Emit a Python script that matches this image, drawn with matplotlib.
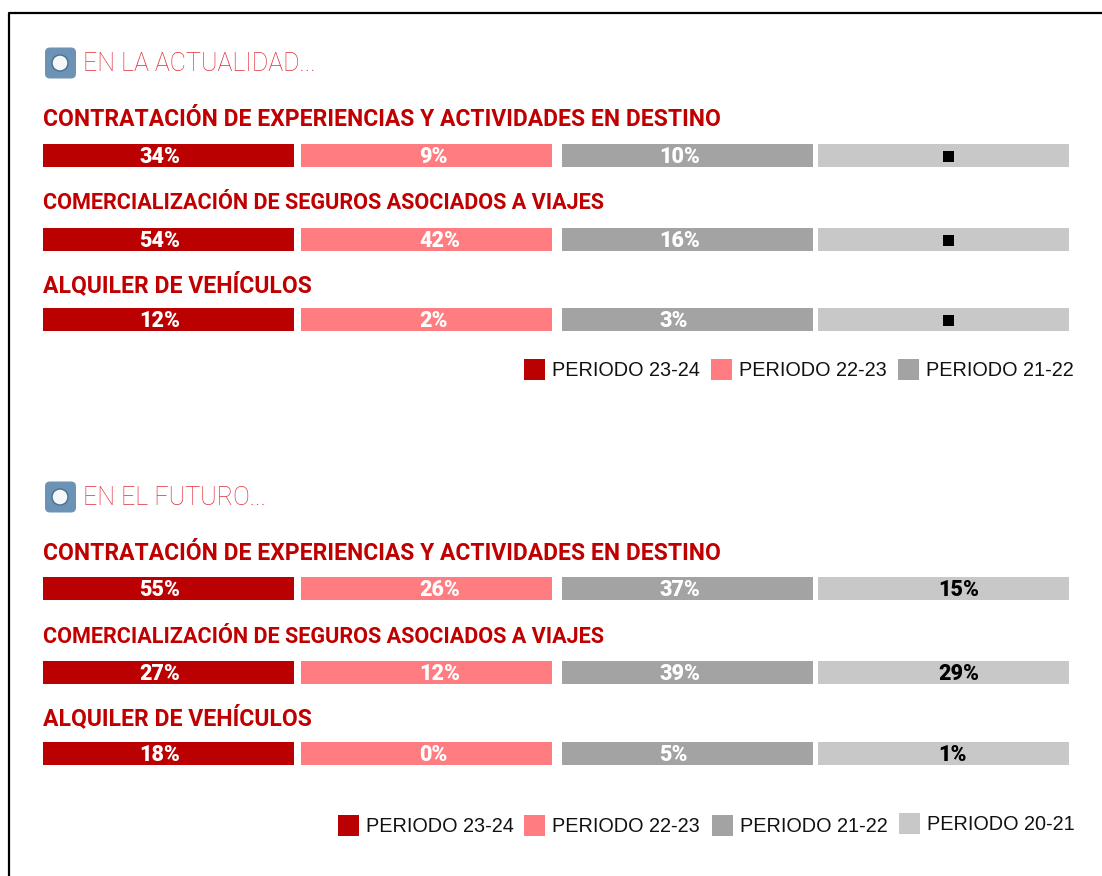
import matplotlib
matplotlib.use('Agg')
import matplotlib.pyplot as plt
from matplotlib.patches import FancyBboxPatch, Rectangle, Circle

# Values, '■' means no data for that period
categories = [
    'CONTRATACIÓN DE EXPERIENCIAS Y ACTIVIDADES EN DESTINO',
    'COMERCIALIZACIÓN DE SEGUROS ASOCIADOS A VIAJES',
    'ALQUILER DE VEHÍCULOS',
]
now_values = [
    ['34%', '9%', '10%', '■'],
    ['54%', '42%', '16%', '■'],
    ['12%', '2%', '3%', '■'],
]
future_values = [
    ['55%', '26%', '37%', '15%'],
    ['27%', '12%', '39%', '29%'],
    ['18%', '0%', '5%', '1%'],
]
periods = ['PERIODO 23-24', 'PERIODO 22-23', 'PERIODO 21-22', 'PERIODO 20-21']
colors = ['#BA0000', '#FF7C80', '#A3A3A3', '#C8C8C8']
value_colors = ['white', 'white', 'white', 'black']

# Layout, in pixels of the picture
col_x = [43, 301, 562, 818]
value_x = [139, 419, 659, 938]
label_sizes = [16.5, 15.6, 16.6]
col_w = 251
bar_h = 23
red = '#C00000'

fig = plt.figure(figsize=(11.02, 8.76), dpi=100)
ax = fig.add_axes([0, 0, 1, 1])
ax.set_xlim(0, 1102)
ax.set_ylim(876, 0)
ax.axis('off')

# black frame, open on the right and at the bottom
ax.plot([9, 9, 1102], [876, 13, 13], color='black', lw=1.6, solid_capstyle='butt')


def draw_section(title, title_y, values, label_ys, bar_ys, legend_xs, legend_y):
    # rounded blue icon
    ax.add_patch(FancyBboxPatch((45, title_y - 15.5), 31, 31,
                                boxstyle='round,pad=0,rounding_size=5',
                                fc='#6C93B5', ec='none'))
    ax.add_patch(Circle((60, title_y), 8, fc='#F4F6F8', ec='#4A6E8E', lw=1))
    ax.text(83, title_y + 1, title, color='#E0303C', fontsize=18, family='Roboto',
            va='center', ha='left', fontweight='light')

    for i, cat in enumerate(categories):
        ax.text(43, label_ys[i], cat, color=red, fontsize=label_sizes[i], family='Roboto',
                fontweight='bold', va='center', ha='left')
        for j, val in enumerate(values[i]):
            ax.add_patch(Rectangle((col_x[j], bar_ys[i]), col_w, bar_h,
                                   fc=colors[j], ec='none'))
            if val == '■':
                ax.add_patch(Rectangle((943, bar_ys[i] + 7), 11, 11,
                                       fc='black', ec='none'))
            else:
                ax.text(value_x[j], bar_ys[i] + 13, val,
                        color=value_colors[j], fontsize=15.5, family='Roboto',
                        fontweight='heavy', va='center', ha='left')

    for k, lx in enumerate(legend_xs):
        # the last key of the long legend sits a little higher
        dy = -2 if k == 3 else 0
        ax.add_patch(Rectangle((lx, legend_y - 10 + dy), 21, 21, fc=colors[k], ec='none'))
        ax.text(lx + 28, legend_y + 1 + dy, periods[k], color='#111111', fontsize=14.3,
                family='Liberation Sans', va='center', ha='left')


draw_section('EN LA ACTUALIDAD...', 63, now_values,
             [120, 203, 285], [144, 228, 308], [524, 711, 898], 369)
draw_section('EN EL FUTURO...', 497, future_values,
             [554, 637, 718], [577, 661, 742], [338, 524, 712, 899], 825)

fig.savefig('out.png', dpi=100)
